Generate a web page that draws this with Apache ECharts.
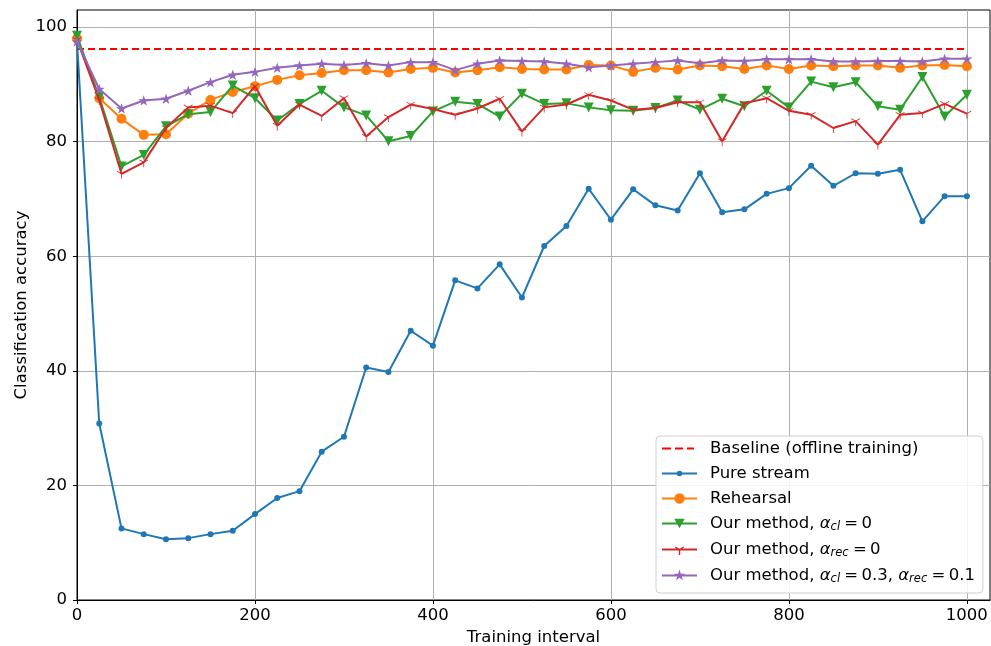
<!DOCTYPE html>
<html>
<head>
<meta charset="utf-8">
<script src="https://cdn.jsdelivr.net/npm/echarts@6/dist/echarts.min.js"></script>
<style>
html,body{margin:0;padding:0;background:#fff;}
#chart{width:991px;height:646px;}
</style>
</head>
<body>
<div id="chart"></div>
<script>
const trainingIntervals = [0,25,50,75,100,125,150,175,200,225,250,275,300,325,350,375,400,425,450,475,500,525,550,575,600,625,650,675,700,725,750,775,800,825,850,875,900,925,950,975,1000];
const baselineValue = 96.2;
const pureStream = [97.5,30.8,12.5,11.5,10.6,10.8,11.5,12.1,15.0,17.8,19.0,25.9,28.5,40.6,39.8,47.0,44.4,55.8,54.4,58.6,52.8,61.8,65.3,71.8,66.4,71.7,68.9,68.0,74.5,67.7,68.2,70.9,71.9,75.8,72.3,74.5,74.4,75.1,66.1,70.5,70.5];
const rehearsal = [98.0,87.6,84.0,81.2,81.3,84.9,87.3,88.7,89.7,90.8,91.6,92.0,92.5,92.5,92.1,92.7,92.9,92.1,92.5,93.0,92.7,92.6,92.6,93.4,93.3,92.2,92.9,92.6,93.3,93.2,92.7,93.3,92.7,93.3,93.2,93.3,93.3,92.9,93.3,93.4,93.2];
const methodCl0 = [98.5,87.8,75.7,77.7,82.7,84.8,85.2,89.8,87.6,83.7,86.6,88.9,86.0,84.6,80.1,81.0,85.3,87.0,86.6,84.4,88.4,86.6,86.7,86.0,85.5,85.4,85.9,87.2,85.6,87.5,86.2,88.9,86.0,90.5,89.5,90.4,86.2,85.6,91.3,84.4,88.2];
const methodRec0 = [97.8,87.3,74.4,76.4,82.4,86.0,86.3,85.0,89.7,82.8,86.5,84.5,87.6,80.9,84.3,86.5,85.7,84.7,85.8,87.5,81.8,86.0,86.5,88.2,87.2,85.6,85.9,86.9,86.9,80.1,86.7,87.6,85.4,84.7,82.4,83.6,79.5,84.7,85.0,86.6,84.9];
const methodFull = [97.5,89.2,85.8,87.2,87.5,88.9,90.4,91.7,92.2,92.9,93.3,93.6,93.4,93.7,93.3,93.9,93.9,92.5,93.6,94.2,94.1,94.0,93.6,93.0,93.3,93.6,93.9,94.2,93.7,94.2,94.1,94.4,94.4,94.4,94.0,94.0,94.1,94.1,94.0,94.5,94.5];
const xTicks = [0,200,400,600,800,1000];
const yTicks = [0,20,40,60,80,100];

const FONT = 'DejaVu Sans';
const FS = 16.5;
const pairs = arr => arr.map((v,i)=>[trainingIntervals[i], v]);

const STAR = 'path://M100,0 L122.45,69.1 L195.1,69.1 L136.3,111.8 L158.8,180.9 L100,138.2 L41.2,180.9 L63.7,111.8 L4.9,69.1 L77.55,69.1 Z';
const TRI_DOWN = 'path://M100,0 L100.01,0 L100,0.01 Z M92,100 L108,100 L108,200 L92,200 Z M104,106.9 L190.6,56.9 L182.6,43.1 L96,93.1 Z M96,106.9 L9.4,56.9 L17.4,43.1 L104,93.1 Z';

// legend icons (35 x 14 box)
const BOX = 'M0,0 L0.01,0 L0,0.01 Z M35,14 L34.99,14 L35,13.99 Z ';
const LINE = 'M0,6 L35,6 L35,8 L0,8 Z ';
const ICON_BASE = 'path://' + BOX + 'M0,6 L9,6 L9,8 L0,8 Z M13,6 L21,6 L21,8 L13,8 Z M25,6 L32,6 L32,8 L25,8 Z';
const ICON_PURE = 'path://' + BOX + LINE + 'M14.7,7 A2.8,2.8 0 1,1 20.3,7 A2.8,2.8 0 1,1 14.7,7 Z';
const ICON_REH = 'path://' + BOX + LINE + 'M12.3,7 A5.2,5.2 0 1,1 22.7,7 A5.2,5.2 0 1,1 12.3,7 Z';
const ICON_CL0 = 'path://' + BOX + LINE + 'M12.3,2.2 L22.7,2.2 L17.5,11.8 Z';
const ICON_REC0 = 'path://' + BOX + LINE + 'M16.8,7 L18.2,7 L18.2,12.5 L16.8,12.5 Z M17.15,6.39 L21.48,3.89 L22.18,5.11 L17.85,7.61 Z M17.15,7.61 L12.82,5.11 L13.52,3.89 L17.85,6.39 Z';
const ICON_FULL = 'path://' + BOX + LINE + 'M17.5,1 L18.85,5.15 L23.21,5.15 L19.68,7.71 L21.03,11.85 L17.5,9.29 L13.97,11.85 L15.32,7.71 L11.79,5.15 L16.15,5.15 Z';

const names = {
  base: 'Baseline (offline training)',
  pure: 'Pure stream',
  reh: 'Rehearsal',
  cl0: 'Our method, acl = 0',
  rec0: 'Our method, arec = 0',
  full: 'Our method, acl = 0.3, arec = 0.1'
};
const TS = '\u2009';
const richLabels = {};
richLabels[names.base] = '{t|Baseline (offline training)}';
richLabels[names.pure] = '{t|Pure stream}';
richLabels[names.reh] = '{t|Rehearsal}';
richLabels[names.cl0] = '{t|Our method, }{a|α}{s|cl}{t|' + TS + '=' + TS + '0}';
richLabels[names.rec0] = '{t|Our method, }{a|α}{s|rec}{t|' + TS + '=' + TS + '0}';
richLabels[names.full] = '{t|Our method, }{a|α}{s|cl}{t|' + TS + '=' + TS + '0.3, }{a|α}{s|rec}{t|' + TS + '=' + TS + '0.1}';

const chart = echarts.init(document.getElementById('chart'), null, {renderer:'canvas'});
const option = {
  animation: false,
  backgroundColor: '#ffffff',
  textStyle: {fontFamily: FONT},
  grid: {left: 77, right: 1, top: 10, bottom: 46, show: true, borderColor: '#000', borderWidth: 1,
         backgroundColor: 'transparent', containLabel: false, outerBoundsMode: 'none'},
  xAxis: {
    type: 'value', min: 0, max: 1026, interval: 200,
    name: 'Training interval', nameLocation: 'middle', nameGap: 29, nameMoveOverlap: false,
    nameTextStyle: {fontFamily: FONT, fontSize: FS, color: '#000'},
    axisLine: {show: true, lineStyle: {color: '#000', width: 1}},
    axisTick: {show: true, length: 4, lineStyle: {color: '#000'}, customValues: xTicks},
    axisLabel: {fontFamily: FONT, fontSize: FS, color: '#000', margin: 7, customValues: xTicks, formatter: v => String(v)},
    splitLine: {show: true, lineStyle: {color: '#b0b0b0', width: 1}}
  },
  yAxis: {
    type: 'value', min: 0, max: 103, interval: 20,
    name: 'Classification accuracy', nameLocation: 'middle', nameGap: 47, nameMoveOverlap: false,
    nameTextStyle: {fontFamily: FONT, fontSize: FS, color: '#000'},
    axisLine: {show: true, lineStyle: {color: '#000', width: 1}},
    axisTick: {show: true, length: 4, lineStyle: {color: '#000'}, customValues: yTicks},
    axisLabel: {fontFamily: FONT, fontSize: FS, color: '#000', margin: 10, customValues: yTicks, formatter: v => String(v)},
    splitLine: {show: true, lineStyle: {color: '#b0b0b0', width: 1}}
  },
  legend: {
    orient: 'vertical', left: 656, top: 436,
    padding: [4, 8, 8, 6], itemGap: 8, itemWidth: 35, itemHeight: 14,
    backgroundColor: 'rgba(255,255,255,0.85)', borderColor: '#d0d0d0', borderWidth: 1, borderRadius: 4,
    data: [
      {name: names.base, icon: ICON_BASE},
      {name: names.pure, icon: ICON_PURE},
      {name: names.reh, icon: ICON_REH},
      {name: names.cl0, icon: ICON_CL0},
      {name: names.rec0, icon: ICON_REC0},
      {name: names.full, icon: ICON_FULL}
    ],
    formatter: n => richLabels[n],
    textStyle: {
      fontFamily: FONT, fontSize: FS, color: '#000', padding: [0,0,0,8],
      rich: {
        t: {fontFamily: FONT, fontSize: FS, color: '#000', lineHeight: 19, verticalAlign: 'middle'},
        a: {fontFamily: FONT, fontSize: FS, fontStyle: 'italic', color: '#000', lineHeight: 19, verticalAlign: 'middle'},
        s: {fontFamily: FONT, fontSize: 11.5, fontStyle: 'italic', color: '#000', lineHeight: 11, verticalAlign: 'bottom', padding: [0,1,0,0]}
      }
    }
  },
  series: [
    {name: names.base, type: 'line', data: [[0, baselineValue],[1000, baselineValue]], symbol: 'none',
     lineStyle: {color: '#ff0000', width: 2, type: [7,4]}, itemStyle: {color: '#ff0000'}, z: 2},
    {name: names.pure, type: 'line', data: pairs(pureStream), symbol: 'circle', symbolSize: 6,
     lineStyle: {color: '#1f77b4', width: 2}, itemStyle: {color: '#1f77b4'}, z: 3},
    {name: names.reh, type: 'line', data: pairs(rehearsal), symbol: 'circle', symbolSize: 10,
     lineStyle: {color: '#ff7f0e', width: 2}, itemStyle: {color: '#ff7f0e'}, z: 4},
    {name: names.cl0, type: 'line', data: pairs(methodCl0), symbol: 'triangle', symbolRotate: 180, symbolSize: 10,
     lineStyle: {color: '#2ca02c', width: 2}, itemStyle: {color: '#2ca02c'}, z: 5},
    {name: names.rec0, type: 'line', data: pairs(methodRec0), symbol: TRI_DOWN, symbolKeepAspect: true, symbolSize: 10,
     lineStyle: {color: '#d62728', width: 2}, itemStyle: {color: '#d62728'}, z: 6},
    {name: names.full, type: 'line', data: pairs(methodFull), symbol: STAR, symbolKeepAspect: true, symbolSize: 11,
     lineStyle: {color: '#9467bd', width: 2}, itemStyle: {color: '#9467bd'}, z: 7}
  ]
};
chart.setOption(option);
</script>
</body>
</html>
